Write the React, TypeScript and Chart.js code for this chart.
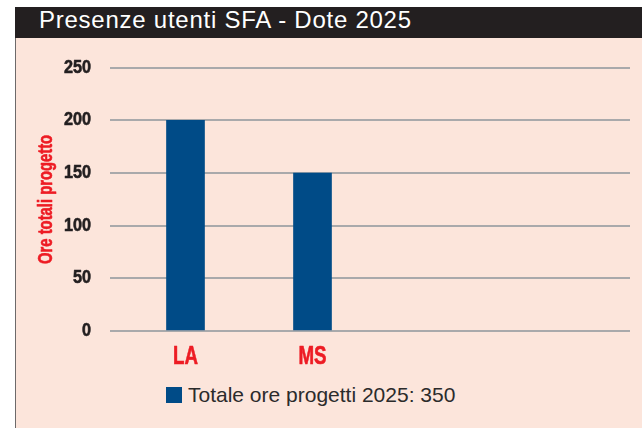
import React, { useEffect, useRef } from "react";
import { Chart, registerables } from "chart.js";

Chart.register(...registerables);

const categories = ["LA", "MS", "", ""];
const hours = [200, 150, null, null];
const yTicks = [0, 50, 100, 150, 200, 250];
const seriesLabel = "Totale ore progetti 2025: 350";
const chartTitle = "Presenze utenti SFA - Dote 2025";
const yTitle = "Ore totali progetto";

const SANS = "'Liberation Sans', Arial, Helvetica, sans-serif";
const BLUE = "#004b87";
const RED = "#ed1c24";

// horizontal condensing per font size (emulates a condensed bold face)
const condense: Record<number, number> = { 18: 0.9, 25: 0.75, 20: 0.74 };

export default function App() {
  const ref = useRef<HTMLCanvasElement | null>(null);

  useEffect(() => {
    const canvas = ref.current;
    if (!canvas) return;
    const ctx = canvas.getContext("2d") as CanvasRenderingContext2D;
    const orig = ctx.fillText.bind(ctx);
    const origStroke = ctx.strokeText.bind(ctx);
    (ctx as any).fillText = (text: string, x: number, y: number, maxWidth?: number) => {
      const m = /(\d+(?:\.\d+)?)px/.exec(ctx.font);
      const size = m ? Math.round(parseFloat(m[1])) : 0;
      const f = condense[size] ?? 1;
      ctx.save();
      ctx.translate(x, y);
      ctx.scale(f, 1);
      if (maxWidth !== undefined) orig(text, 0, 0, maxWidth / f);
      else orig(text, 0, 0);
      if (f !== 1) {
        ctx.strokeStyle = ctx.fillStyle;
        ctx.lineWidth = 0.6;
        ctx.lineJoin = "round";
        if (maxWidth !== undefined) origStroke(text, 0, 0, maxWidth / f);
        else origStroke(text, 0, 0);
      }
      ctx.restore();
    };

    const chart = new Chart(canvas, {
      type: "bar",
      data: {
        labels: categories,
        datasets: [
          {
            label: seriesLabel,
            data: hours,
            backgroundColor: BLUE,
            barThickness: 38,
          },
        ],
      },
      options: {
        animation: false,
        responsive: false,
        maintainAspectRatio: false,
        layout: { padding: { top: 27, right: 12, left: 0, bottom: 0 } },
        plugins: { legend: { display: false }, tooltip: { enabled: false } },
        scales: {
          x: {
            grid: { display: false, drawTicks: false },
            border: { display: false },
            ticks: {
              color: RED,
              padding: 11,
              font: { family: SANS, size: 25, weight: "bold" },
            },
            afterFit: (s: any) => {
              s.height = 47;
            },
          },
          y: {
            min: 0,
            max: 250,
            afterBuildTicks: (s: any) => {
              s.ticks = yTicks.map((v) => ({ value: v }));
            },
            grid: {
              color: "#a9a9ab",
              lineWidth: 2,
              drawTicks: true,
              tickLength: 12,
              tickColor: "#a9a9ab",
            },
            border: { display: false },
            ticks: {
              color: "#231f20",
              padding: 19,
              font: { family: SANS, size: 18, weight: "bold" },
            },
            title: {
              display: true,
              text: yTitle,
              color: RED,
              font: { family: SANS, size: 20, weight: "bold" },
              padding: { top: 18, bottom: 0 },
            },
            afterFit: (s: any) => {
              s.width = 106;
            },
          },
        },
      },
    });
    return () => chart.destroy();
  }, []);

  return (
    <div
      style={{
        position: "fixed",
        left: 0,
        top: 0,
        width: 642,
        height: 428,
        background: "#ffffff",
        overflow: "hidden",
      }}
    >
      <div
        style={{
          position: "absolute",
          left: 15,
          top: 38,
          width: 627,
          height: 390,
          background: "#fce5db",
          borderLeft: "1.5px solid #6d6a6a",
          boxSizing: "border-box",
        }}
      />
      <div
        style={{
          position: "absolute",
          left: 15,
          top: 7,
          width: 627,
          height: 31,
          background: "#231f20",
          color: "#ffffff",
          fontFamily: SANS,
          fontSize: 24,
          letterSpacing: "0.75px",
          lineHeight: "25px",
          paddingLeft: 24,
          boxSizing: "border-box",
          whiteSpace: "nowrap",
        }}
      >
        {chartTitle}
      </div>
      <canvas
        ref={ref}
        width={626}
        height={340}
        style={{ position: "absolute", left: 16, top: 38, width: 626, height: 340 }}
      />
      <div
        style={{
          position: "absolute",
          left: 166,
          top: 383,
          height: 24,
          display: "flex",
          alignItems: "center",
          fontFamily: SANS,
          fontSize: 21,
          lineHeight: "24px",
          color: "#2b2b2b",
          whiteSpace: "nowrap",
        }}
      >
        <span
          style={{
            display: "inline-block",
            width: 16,
            height: 16,
            background: BLUE,
            marginRight: 6,
          }}
        />
        <span>{seriesLabel}</span>
      </div>
    </div>
  );
}
